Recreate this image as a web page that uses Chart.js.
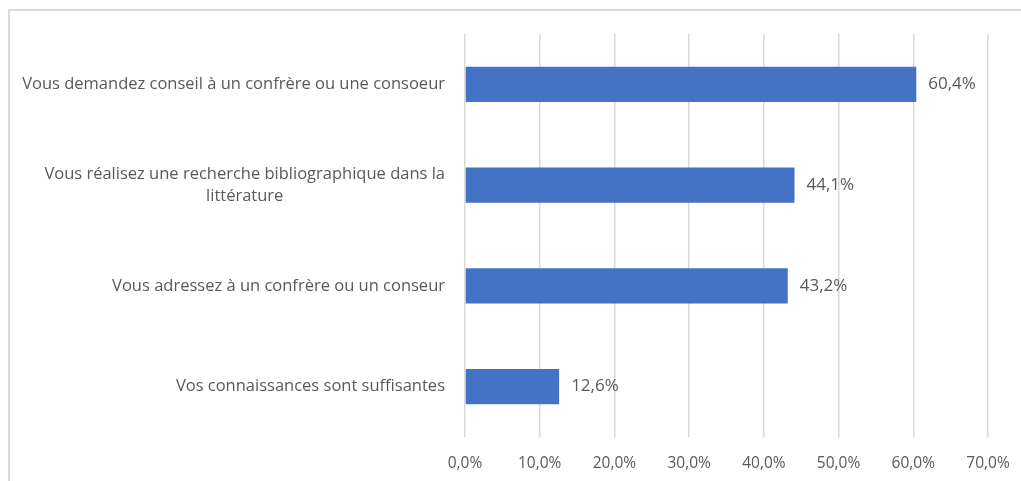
<!DOCTYPE html>
<html>
<head>
<meta charset="utf-8">
<script src="https://cdn.jsdelivr.net/npm/chart.js@4"></script>
<style>
  html, body { margin: 0; padding: 0; background: #fff; overflow: hidden; }
  #frame { position: absolute; left: 8px; top: 9px; width: 1040px; height: 520px; border: 2px solid #d9d9d9; }
  #myChart { position: absolute; left: 0; top: 0; }
</style>
</head>
<body>
<div id="frame"></div>
<canvas id="myChart" width="1021" height="481"></canvas>
<script>
const categories = [
  'Vous demandez conseil à un confrère ou une consoeur',
  ['Vous réalisez une recherche bibliographique dans la', 'littérature'],
  'Vous adressez à un confrère ou un conseur',
  'Vos connaissances sont suffisantes'
];
const values = [60.4, 44.1, 43.2, 12.6];
const xTicks = [0, 10, 20, 30, 40, 50, 60, 70];

const textColor = '#595959';
const fontFamily = '"Open Sans", "Noto Sans", sans-serif';

function pct(v) {
  return v.toFixed(1).replace('.', ',') + '%';
}

// category labels: block right aligned, lines centered (like Excel)
const yLabels = {
  id: 'yLabels',
  afterDraw(chart) {
    const ctx = chart.ctx;
    const yScale = chart.scales.y;
    ctx.save();
    ctx.font = '16.5px ' + fontFamily;
    ctx.fillStyle = textColor;
    ctx.textAlign = 'center';
    ctx.textBaseline = 'middle';
    categories.forEach((label, i) => {
      const lines = Array.isArray(label) ? label : [label];
      const widest = Math.max(...lines.map(l => ctx.measureText(l).width));
      const cx = chart.chartArea.left - 20 - widest / 2;
      const lh = 22;
      const y0 = yScale.getPixelForValue(i) - (lines.length - 1) * lh / 2;
      lines.forEach((l, j) => ctx.fillText(l, cx, y0 + j * lh));
    });
    ctx.restore();
  }
};

const valueLabels = {
  id: 'valueLabels',
  afterDatasetsDraw(chart) {
    const ctx = chart.ctx;
    ctx.save();
    ctx.font = '17px ' + fontFamily;
    ctx.fillStyle = textColor;
    ctx.textAlign = 'left';
    ctx.textBaseline = 'middle';
    chart.getDatasetMeta(0).data.forEach((bar, i) => {
      ctx.fillText(pct(values[i]), bar.x + 12, bar.y);
    });
    ctx.restore();
  }
};

new Chart('myChart', {
  type: 'bar',
  data: {
    labels: categories,
    datasets: [{
      data: values,
      backgroundColor: '#4472C4',
      barPercentage: 0.35,
      categoryPercentage: 1
    }]
  },
  options: {
    indexAxis: 'y',
    responsive: false,
    animation: false,
    devicePixelRatio: 1,
    layout: { padding: { top: 34, right: 33, left: 0, bottom: 0 } },
    plugins: {
      legend: { display: false },
      tooltip: { enabled: false }
    },
    scales: {
      x: {
        min: 0,
        max: 70,
        afterBuildTicks(scale) {
          scale.ticks = xTicks.map(v => ({ value: v }));
        },
        afterFit(scale) {
          scale.height = 44;
          scale.paddingLeft = 0;
          scale.paddingRight = 0;
        },
        grid: { color: '#d9d9d9', lineWidth: 1.5, drawTicks: false },
        border: { display: false },
        ticks: {
          padding: 17,
          color: textColor,
          font: { family: fontFamily, size: 15.5 },
          callback: v => pct(v)
        }
      },
      y: {
        afterFit(scale) { scale.width = 465; },
        grid: { display: false },
        border: { display: false },
        ticks: { display: false }
      }
    }
  },
  plugins: [yLabels, valueLabels]
});
</script>
</body>
</html>
